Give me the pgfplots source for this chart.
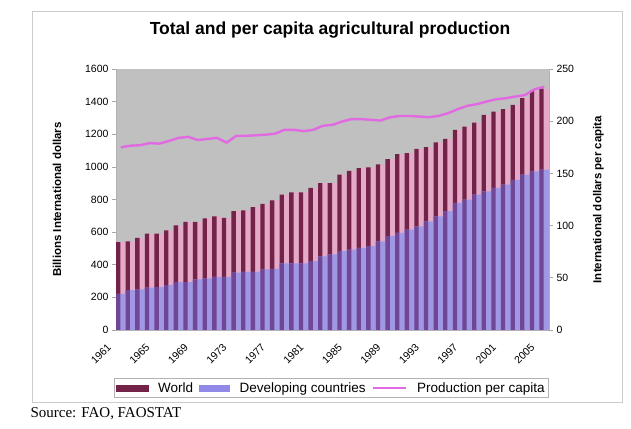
\documentclass[border=0pt]{standalone}
\usepackage{pgfplots}
\usepackage{pgfplotstable}
\pgfplotsset{compat=1.18}
\usepackage{fontspec}
\setmainfont{Liberation Sans}
\newfontfamily\seriffont{Liberation Serif}
\definecolor{wdark}{RGB}{115,35,72}
\definecolor{wpink}{RGB}{228,170,200}
\definecolor{ddark}{RGB}{112,70,150}
\definecolor{dlight}{RGB}{160,152,228}
\definecolor{pcline}{RGB}{225,105,225}
\definecolor{plotbg}{RGB}{192,192,192}
\pgfplotstableread{
idx year world dev pc
0 1961 538 222 175
1 1962 544 245 176.5
2 1963 565 249 177
3 1964 591 259 179
4 1965 591 263 178.5
5 1966 611 275 181
6 1967 642 294 184
7 1968 663 294 185
8 1969 663 310 182
9 1970 685 316 183
10 1971 697 326 184
11 1972 687 326 179.5
12 1973 728 351 186
13 1974 734 357 186
14 1975 754 357 186.5
15 1976 773 371 187
16 1977 795 375 188
17 1978 830 408 191.7
18 1979 844 408 191.7
19 1980 844 408 190.5
20 1981 871 422 191.7
21 1982 901 452 195.6
22 1983 901 463 196.5
23 1984 952 483 199.7
24 1985 976 493 202
25 1986 993 504 202
26 1987 997 514 201.3
27 1988 1015 544 200.6
28 1989 1048 575 203.8
29 1990 1078 595 205
30 1991 1085 616 205
31 1992 1111 636 204.4
32 1993 1121 666 203.8
33 1994 1150 697 205
34 1995 1172 728 207.6
35 1996 1227 779 211.5
36 1997 1247 799 214.7
37 1998 1272 830 216.3
38 1999 1319 850 218.8
39 2000 1339 871 221
40 2001 1354 891 222
41 2002 1380 921 223.6
42 2003 1421 952 225
43 2004 1467 972 230.6
44 2005 1480 983 233
}\datatable
\begin{document}
\begin{tikzpicture}[x=1pt,y=1pt]
\path[use as bounding box] (0,0) rectangle (631,428);
\draw[gray!40, line width=0.8pt] (32,26) rectangle (622,417);
\node[font=\bfseries\fontsize{17.5}{20}\selectfont] at (330,398) {Total and per capita agricultural production};
\node[anchor=base west, font=\seriffont\fontsize{15}{17}\selectfont] at (27,11) {Source: FAO, FAOSTAT};
\begin{axis}[
  at={(116pt,98pt)}, anchor=south west,
  width=433pt, height=261pt, scale only axis,
  xmin=-0.5, xmax=44.5, ymin=0, ymax=1600,
  axis y line*=left, axis x line*=bottom,
  axis line style={draw=gray!60, line width=0.6pt},
  axis background/.style={fill=plotbg},
  /pgf/number format/assume math mode=true,
  /pgf/number format/1000 sep={},
  tick label style={font=\fontsize{10.5}{12}\selectfont},
  ytick={0,200,...,1600},
  y tick style={draw=gray!70, line width=0.6pt},
  tick align=outside, major tick length=4pt,
  xtick={0,4,...,44},
  xticklabels={1961,1965,1969,1973,1977,1981,1985,1989,1993,1997,2001,2005},
  x tick style={draw=none},
  xticklabel style={xshift=-9pt, yshift=-9pt, rotate=45, anchor=east},
  ylabel={Billions International dollars},
  ylabel style={font=\bfseries\fontsize{11.5}{13}\selectfont, yshift=17pt},
  legend columns=3,
  legend style={at={(axis description cs:0.497,-0.222)}, anchor=center,
    draw=gray!60, font=\fontsize{13.5}{15}\selectfont, inner sep=2pt,
    /tikz/every even column/.append style={column sep=4pt},
    /tikz/every odd column/.append style={column sep=8pt}},
]
\addplot[ybar, bar width=1, bar shift=0, draw=none, fill=wpink, forget plot] table[x=idx, y=world] {\datatable};
\addplot[ybar, bar width=0.45, bar shift=-0.275, draw=none, fill=wdark, forget plot] table[x=idx, y=world] {\datatable};
\addplot[ybar, bar width=1, bar shift=0, draw=none, fill=dlight, forget plot] table[x=idx, y=dev] {\datatable};
\addplot[ybar, bar width=0.45, bar shift=-0.275, draw=none, fill=ddark, forget plot] table[x=idx, y=dev] {\datatable};
\addlegendimage{legend image code/.code={\fill[wdark] (0pt,-2.8pt) rectangle (32pt,2.8pt);}}
\addlegendentry{World}
\addlegendimage{legend image code/.code={\fill[dlight!90!blue] (0pt,-2.8pt) rectangle (30pt,2.8pt);}}
\addlegendentry{Developing countries}
\addlegendimage{legend image code/.code={\draw[pcline, line width=2.4pt] (0pt,0pt) -- (33pt,0pt);}}
\addlegendentry{Production per capita}
\end{axis}
\begin{axis}[
  at={(116pt,98pt)}, anchor=south west,
  width=433pt, height=261pt, scale only axis,
  xmin=-0.5, xmax=44.5, ymin=0, ymax=250,
  axis y line*=right, axis x line=none,
  axis line style={draw=gray!60, line width=0.6pt},
  /pgf/number format/assume math mode=true,
  tick label style={font=\fontsize{10.5}{12}\selectfont},
  ytick={0,50,...,250},
  y tick style={draw=gray!70, line width=0.6pt},
  tick align=outside, major tick length=4pt,
  ylabel={International dollars per capita},
  ylabel style={font=\bfseries\fontsize{11.5}{13}\selectfont, yshift=-12pt},
]
\addplot[pcline, line width=2.4pt, mark=none] table[x=idx, y=pc] {\datatable};
\end{axis}
\end{tikzpicture}
\end{document}
